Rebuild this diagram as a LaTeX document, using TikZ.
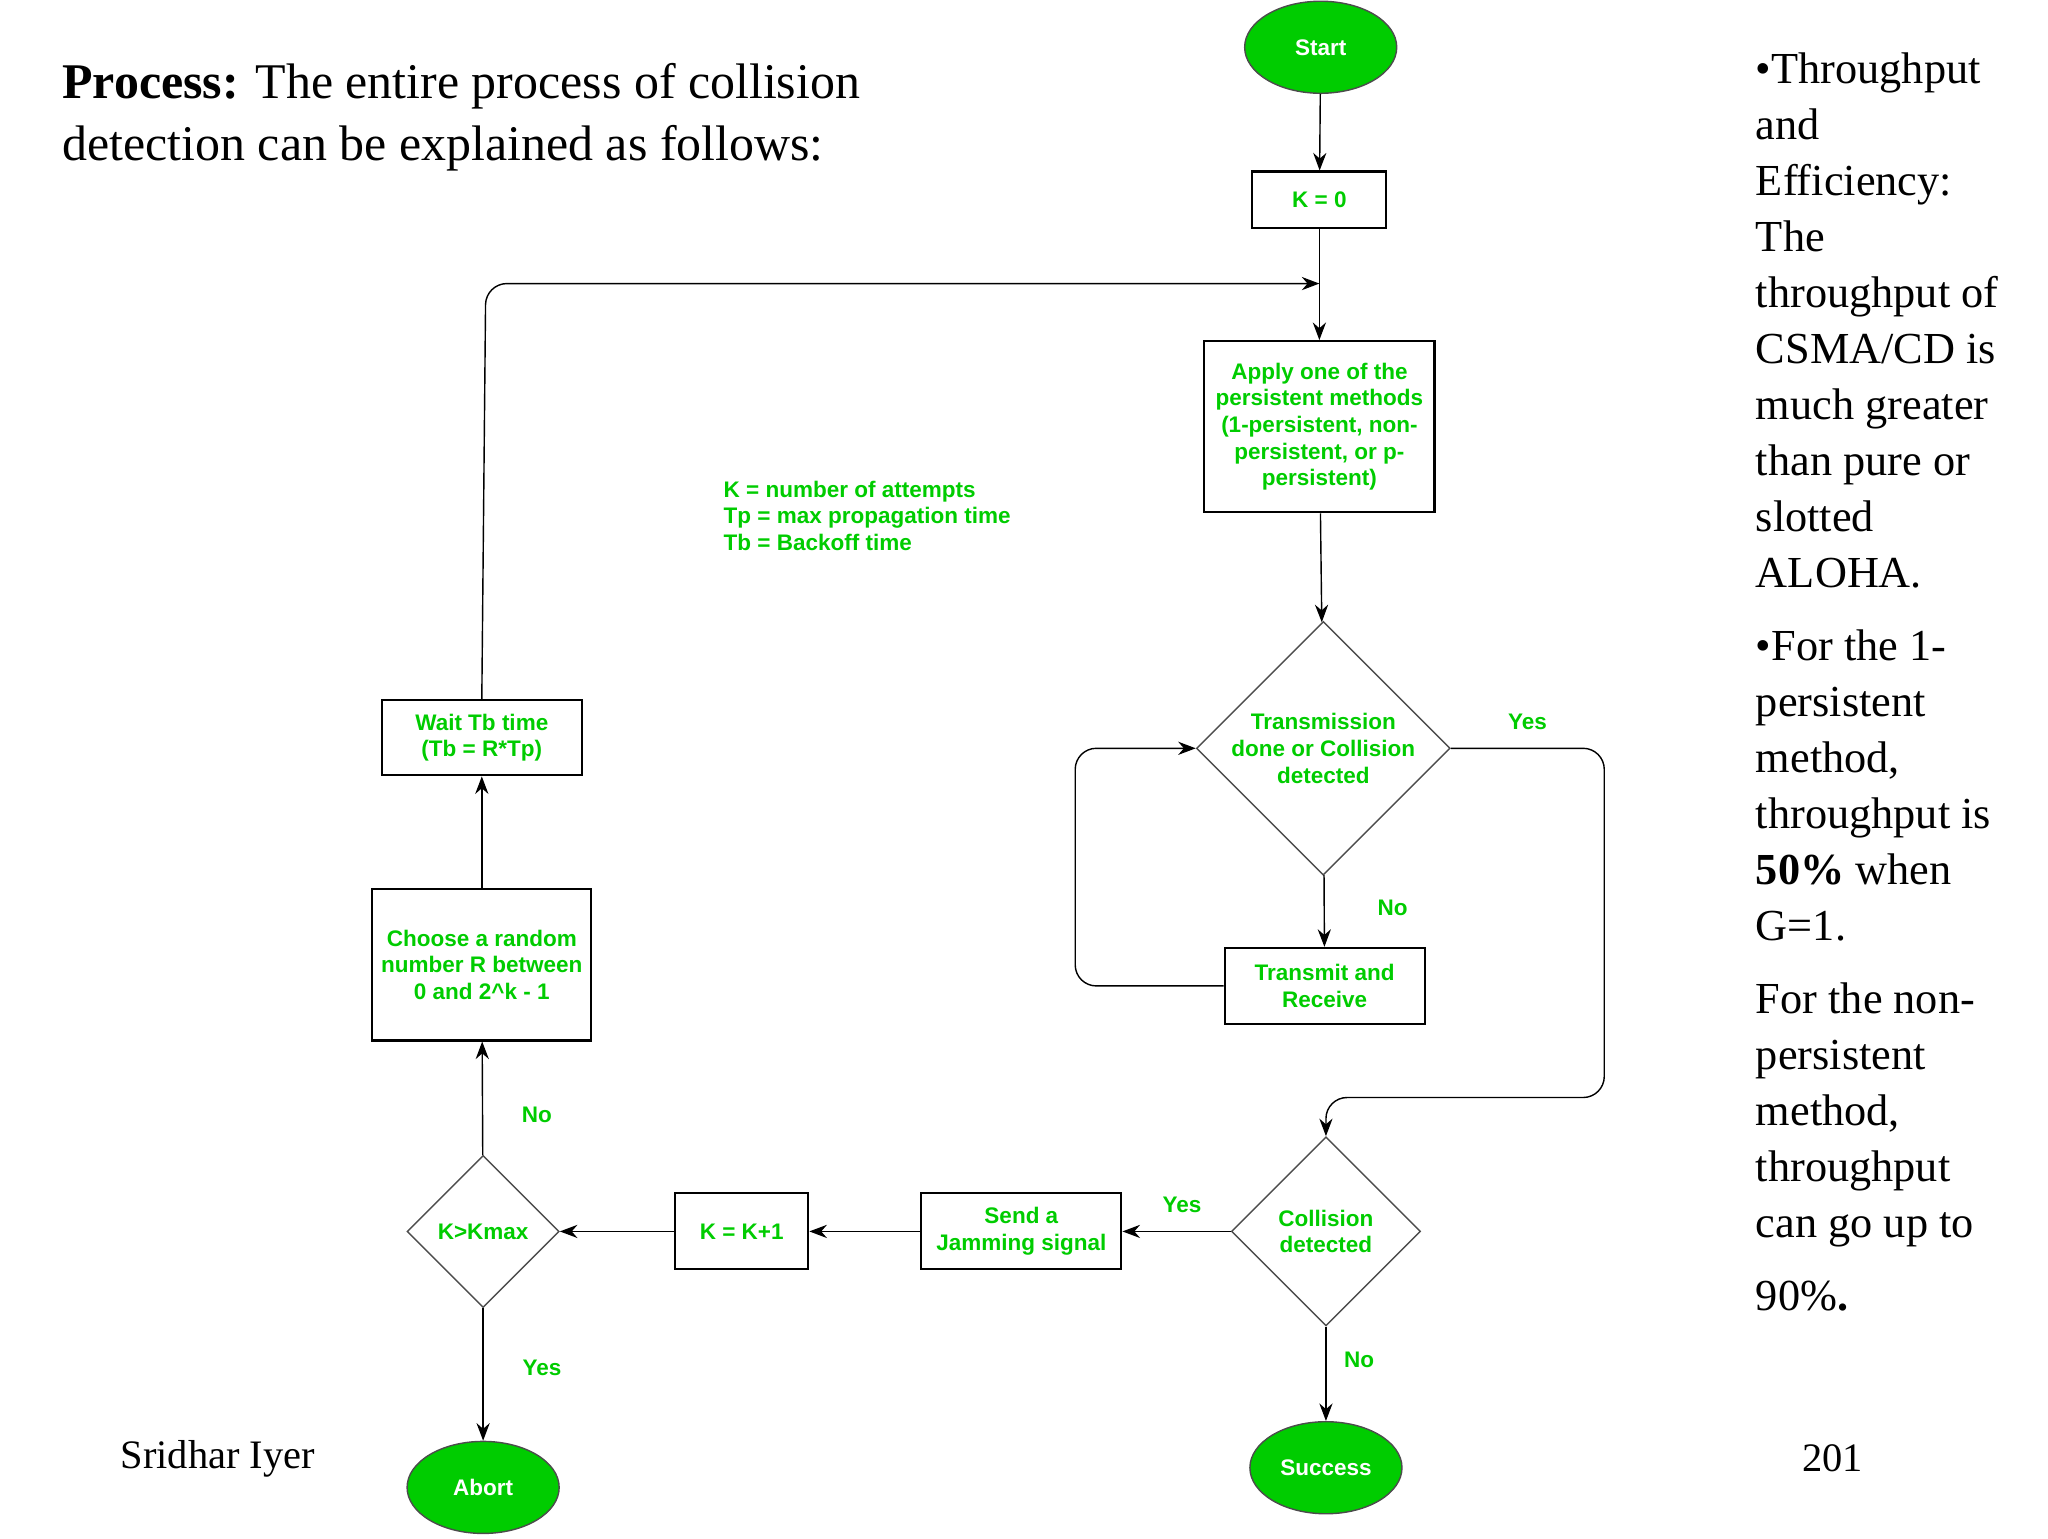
\documentclass[tikz,border=0pt]{standalone}
\usepackage{fontspec}
\setmainfont{Liberation Serif}
\newfontfamily\flowfont{Liberation Sans}
\usetikzlibrary{arrows.meta, shapes.geometric}
\definecolor{fcgreen}{RGB}{0,204,0}
\begin{document}
\begin{tikzpicture}[x=0.01313cm, y=-0.01313cm,
  every node/.style={font=\flowfont\bfseries\fontsize{6.4}{7.6}\selectfont, text=fcgreen, align=center, inner sep=1pt},
  term/.style={ellipse, draw=black!70, fill=fcgreen, text=white, minimum width=1.52cm, minimum height=0.92cm},
  box/.style={rectangle, draw, semithick, text=fcgreen},
  dec/.style={diamond, draw=black!70, inner sep=0pt},
  lab/.style={text=fcgreen},
  arr/.style={-{Stealth[length=5pt]}, thin, rounded corners=6pt}]
\useasboundingbox (0,0) rectangle (1560,1172);
% nodes
\node[term] (start) at (1006,36) {Start};
\node[box, minimum width=1.34cm, minimum height=0.56cm] (k0) at (1005,152) {K = 0};
\node[box, minimum width=2.30cm, minimum height=1.71cm] (apply) at (1005,325)
  {Apply one of the\\persistent methods\\(1-persistent, non-\\persistent, or p-\\persistent)};
\node[dec, minimum width=2.36cm, minimum height=2.44cm] (trans) at (1008,570) {Transmission\\done or Collision\\detected};
\node[box, minimum width=2.0cm, minimum height=0.76cm] (txrx) at (1009,751) {Transmit and\\Receive};
\node[dec, minimum width=1.89cm, minimum height=1.89cm] (coll) at (1010,938) {Collision\\detected};
\node[term] (succ) at (1010,1118) {Success};
\node[box, minimum width=2.0cm, minimum height=0.76cm] (jam) at (778,938) {Send a\\Jamming signal};
\node[box, minimum width=1.33cm, minimum height=0.76cm] (kinc) at (565,938) {K = K+1};
\node[dec, minimum width=1.52cm, minimum height=1.52cm] (kmax) at (368,938) {K>Kmax};
\node[term] (abort) at (368,1133) {Abort};
\node[box, minimum width=2.19cm, minimum height=1.51cm] (rand) at (367,735) {Choose a random\\number R between\\0 and 2\textasciicircum k - 1};
\node[box, minimum width=2.0cm, minimum height=0.75cm] (wait) at (367,562) {Wait Tb time\\(Tb = R*Tp)};
\coordinate (join) at (1005,216);
\node[align=left, anchor=north west] (legend) at (548,363) {K = number of attempts\\Tp = max propagation time\\Tb = Backoff time};
% connectors
\draw[arr] (start) -- (k0);
\draw[arr] (k0) -- (apply);
\draw[arr] (apply) -- (trans);
\draw[arr] (trans) -- node[lab, pos=0.45, right=14pt] {No} (txrx);
\draw[arr] (txrx.west) -- (819,751) -- (819,570) -- (trans.west);
\draw[arr] (trans.east) -- node[lab, above=4pt, pos=0.5] {Yes} (1222,570) -- (1222,836) -- (1010,836) -- (coll.north);
\draw[arr] (coll) -- node[lab, right=4pt, pos=0.35] {No} (succ);
\draw[arr] (coll) -- node[lab, above=4pt, pos=0.45] {Yes} (jam);
\draw[arr] (jam) -- (kinc);
\draw[arr] (kinc) -- (kmax);
\draw[arr] (kmax) -- node[lab, right=10pt, pos=0.45] {Yes} (abort);
\draw[arr] (kmax) -- node[lab, right=10pt, pos=0.35] {No} (rand);
\draw[arr] (rand) -- (wait);
\draw[arr] (wait.north) -- (370,216) -- (join);
% slide text
\node[font=\fontsize{14.2}{17.6}\selectfont, text=black, align=left, anchor=north west, inner sep=0pt] (title) at (47,48)
  {\textbf{Process:} The entire process of collision\\detection can be explained as follows:};
\node[font=\fontsize{12.6}{15.9}\selectfont, text=black, align=left, anchor=north west, inner sep=0pt] (side) at (1337,40)
  {\textbullet Throughput\\and\\Efficiency:\\The\\throughput of\\CSMA/CD is\\much greater\\than pure or\\slotted\\ALOHA.\\[5pt]
   \textbullet For the 1-\\persistent\\method,\\throughput is\\\textbf{50\%} when\\G=1.\\[5pt]
   For the non-\\persistent\\method,\\throughput\\can go up to\\[5pt]90\%\textbf{.}};
\node[font=\fontsize{11.5}{14}\selectfont, text=black] (auth) at (166,1111) {Sridhar Iyer};
\node[font=\fontsize{11.5}{14}\selectfont, text=black] (page) at (1396,1111) {201};
\end{tikzpicture}
\end{document}
